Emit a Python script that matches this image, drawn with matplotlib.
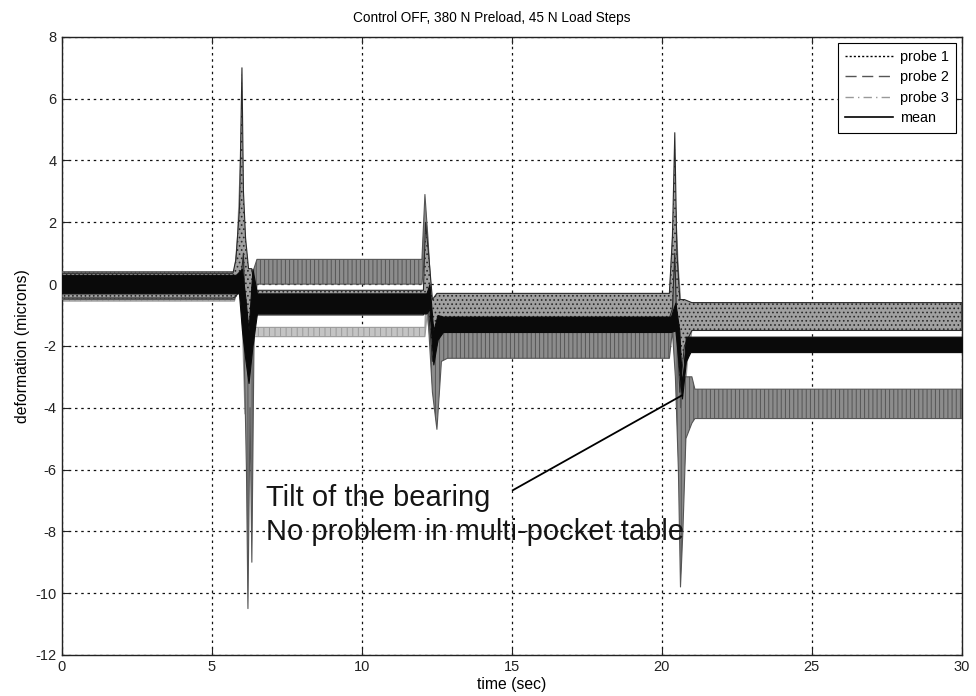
import matplotlib
matplotlib.use("Agg")
import matplotlib.pyplot as plt
from matplotlib.lines import Line2D

plt.rcParams['font.family'] = ['Liberation Sans', 'DejaVu Sans']
plt.rcParams['axes.unicode_minus'] = False
plt.rcParams['hatch.linewidth'] = 0.7

# ---- data: envelopes (lower / upper) ----
# probe 1 (dotted black)
p1_t  = [0, 5.70, 5.80, 5.92, 6.00, 6.05, 6.12, 6.22, 6.32, 6.45, 12.05, 12.12, 12.22, 12.35, 12.50, 12.70, 20.25, 20.35, 20.43, 20.50, 20.60, 20.75, 21.00, 30]
p1_lo = [-0.45, -0.45, -0.4, -0.2, 0.5, 1.0, -1.5, -3.0, -1.2, -1.0, -1.0, -0.5, -0.8, -2.5, -1.5, -1.1, -1.1, -0.8, 1.0, -1.5, -3.5, -2.0, -1.5, -1.5]
p1_hi = [0.35, 0.35, 0.8, 2.5, 7.0, 3.0, 1.5, 0.5, 0.5, -0.2, -0.2, 2.0, 1.0, -0.5, -0.3, -0.3, -0.3, 1.5, 4.9, 1.0, -0.5, -0.5, -0.6, -0.6]

# probe 2 (dashed dark grey)
p2_t  = [0, 5.75, 5.85, 5.95, 6.05, 6.15, 6.20, 6.27, 6.33, 6.40, 6.50, 12.00, 12.10, 12.20, 12.35, 12.50, 12.65, 12.85, 20.25, 20.35, 20.45, 20.55, 20.62, 20.70, 20.80, 21.00, 21.10, 30]
p2_lo = [-0.5, -0.5, 0.0, 0.5, -1.0, -6.0, -10.5, -4.0, -9.0, -2.0, 0.0, 0.0, 1.0, -1.0, -3.5, -4.7, -2.5, -2.4, -2.4, -1.5, -3.0, -6.0, -9.8, -8.0, -5.0, -4.5, -4.35, -4.35]
p2_hi = [0.4, 0.4, 1.2, 2.2, 2.5, 0.5, -2.0, 0.5, -1.0, 0.5, 0.8, 0.8, 2.9, 1.5, -1.0, -2.0, -1.4, -1.5, -1.5, 0.5, 2.5, 0.0, -4.0, -3.0, -3.0, -3.0, -3.4, -3.4]

# probe 3 (dash-dot light grey)
p3_t  = [0, 5.75, 5.85, 5.97, 6.02, 6.10, 6.25, 6.40, 12.10, 12.17, 12.30, 12.45, 12.60, 12.80, 20.25, 20.35, 20.45, 20.55, 20.70, 20.85, 21.00, 30]
p3_lo = [-0.55, -0.55, -0.2, 1.0, -1.5, -4.2, -2.0, -1.7, -1.7, -1.0, -2.0, -4.0, -2.5, -1.6, -1.6, -1.0, 0.0, -4.0, -4.5, -2.5, -1.5, -1.5]
p3_hi = [0.3, 0.3, 1.5, 4.5, 1.0, -1.0, 0.5, -1.4, -1.4, 1.0, -0.5, -1.5, -1.0, -0.5, -0.5, 1.5, 2.6, 0.5, -1.5, -0.6, -0.6, -0.6]

# mean (solid black)
mn_t  = [0, 5.80, 5.90, 6.00, 6.12, 6.22, 6.35, 6.50, 12.15, 12.25, 12.38, 12.52, 12.70, 20.30, 20.45, 20.58, 20.67, 20.80, 20.95, 30]
mn_lo = [-0.3, -0.3, -0.3, -1.5, -2.5, -3.2, -2.0, -0.95, -0.95, -0.8, -2.6, -1.8, -1.55, -1.55, -1.5, -2.8, -3.7, -2.5, -2.2, -2.2]
mn_hi = [0.3, 0.3, 0.4, 0.5, -0.5, -1.5, 0.5, -0.3, -0.3, 0.0, -1.5, -1.0, -1.05, -1.05, -0.6, -1.5, -3.3, -1.7, -1.7, -1.7]

series_names = ['probe 1', 'probe 2', 'probe 3', 'mean']
x_ticks = [0, 5, 10, 15, 20, 25, 30]
y_ticks = [-12, -10, -8, -6, -4, -2, 0, 2, 4, 6, 8]

annot_text = "Tilt of the bearing\nNo problem in multi-pocket table"
annot_point = (20.67, -3.6)
annot_line_start = (15.03, -6.67)
annot_text_x = 6.8
annot_baselines = [-7.18, -8.28]

# ---- figure ----
fig = plt.figure(figsize=(9.76, 6.96), dpi=100)
ax = fig.add_axes([0.0635, 0.059, 0.922, 0.888])

ax.fill_between(p3_t, p3_lo, p3_hi, facecolor='#c4c4c4', edgecolor='#9a9a9a',
                hatch='|||', linewidth=0.8, zorder=2)
ax.fill_between(p2_t, p2_lo, p2_hi, facecolor='#8c8c8c', edgecolor='#555555',
                hatch='||||', linewidth=0.8, zorder=3)
ax.fill_between(p1_t, p1_lo, p1_hi, facecolor='#a0a0a0', edgecolor='#2a2a2a',
                hatch='....', linewidth=0.8, zorder=4)
ax.fill_between(mn_t, mn_lo, mn_hi, facecolor='#0a0a0a', edgecolor='#0a0a0a',
                linewidth=0.8, zorder=5)

ax.set_xlim(0, 30)
ax.set_ylim(-12, 8)
ax.set_xticks(x_ticks)
ax.set_yticks(y_ticks)
ax.tick_params(direction='in', top=True, right=True, length=5, labelsize=10.5,
               colors='#222222', pad=4)
ax.grid(True, linestyle=(0, (2, 3)), color='#111111', linewidth=0.9)
ax.set_axisbelow(True)
for s in ax.spines.values():
    s.set_color('#222222')
    s.set_linewidth(1.0)

ax.set_title("Control OFF, 380 N Preload, 45 N Load Steps", fontsize=9.8, pad=11, x=0.478)
ax.set_xlabel("time (sec)", fontsize=11.3, labelpad=2)
ax.set_ylabel("deformation (microns)", fontsize=11.3, labelpad=4)

# annotation
ax.plot([annot_line_start[0], annot_point[0]], [annot_line_start[1], annot_point[1]],
        color='black', linewidth=1.3, zorder=6)
for line, yb in zip(annot_text.split("\n"), annot_baselines):
    ax.text(annot_text_x, yb, line, fontsize=21, va='baseline', ha='left',
            color='#151515', zorder=7)

handles = [
    Line2D([], [], color='black', linestyle=(0, (1.5, 1.5)), linewidth=1.0),
    Line2D([], [], color='#555555', linestyle=(0, (8, 4)), linewidth=1.0),
    Line2D([], [], color='#999999', linestyle=(0, (6, 3, 1, 3)), linewidth=1.0),
    Line2D([], [], color='black', linestyle='-', linewidth=1.2),
]
leg = ax.legend(handles, series_names, loc='upper right', fontsize=10.4, frameon=True,
                fancybox=False, edgecolor='black', framealpha=1, borderaxespad=0.4,
                handlelength=3.3, handletextpad=0.5, labelspacing=0.45, borderpad=0.5)
leg.get_frame().set_linewidth(0.8)

fig.savefig("out.png", dpi=100)
